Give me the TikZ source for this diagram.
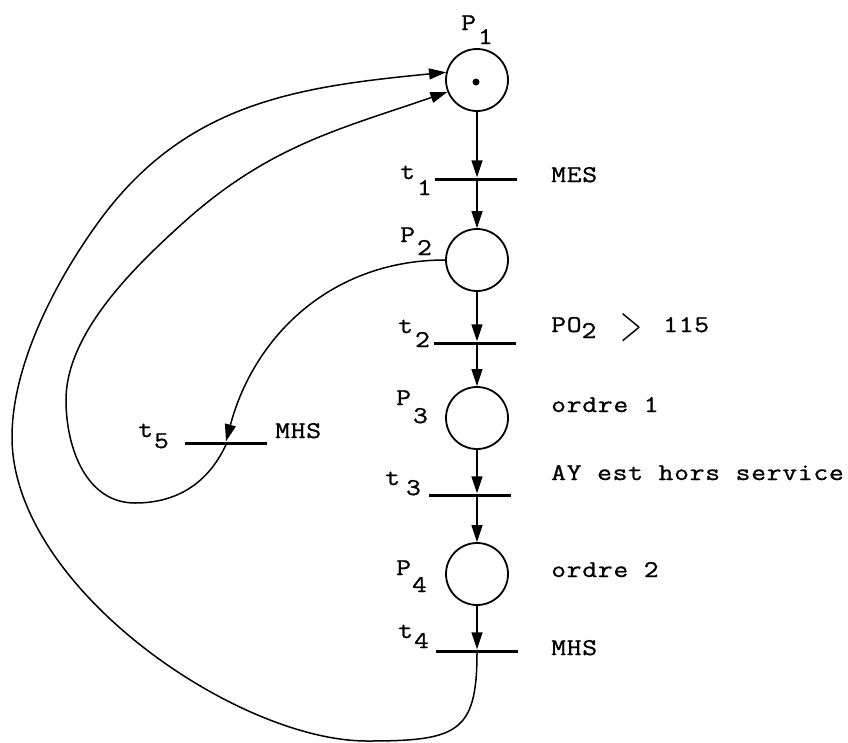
\documentclass[tikz,border=0pt]{standalone}
\usepackage{fontspec}
\usepackage{graphicx}
\setmonofont[FakeStretch=1.2,LetterSpace=3,FakeBold=1]{Latin Modern Mono}
\usetikzlibrary{arrows.meta}

% label with a lowered index, typewriter style
\newcommand\plab[4]{#1\kern#4pt\raisebox{-#3pt}{#2}}

\tikzset{
  place/.style={circle, draw, line width=1.8pt, minimum size=62pt, inner sep=0pt},
  token/.style={circle, fill, minimum size=7pt, inner sep=0pt},
  trans/.style={rectangle, fill=black, minimum width=82pt, minimum height=3pt, inner sep=0pt},
  arc/.style={line width=1.5pt, -{Triangle[length=17pt,width=11pt]}},
  lbl/.style={anchor=base west, inner sep=0pt, font=\ttfamily\fontsize{24}{24}\selectfont},
}

\begin{document}
\begin{tikzpicture}[x=1pt,y=1pt]
\useasboundingbox (0,0) rectangle (848,-742);

% places and transitions
\node[place] (P1) at (477,-80) {};
\node[token] (tok) at (476,-82) {};
\node[trans] (t1) at (476,-179) {};
\node[place] (P2) at (477,-260) {};
\node[trans] (t2) at (475,-343) {};
\node[place] (P3) at (477,-418) {};
\node[trans] (t3) at (470,-495) {};
\node[place] (P4) at (477,-574) {};
\node[trans] (t4) at (477,-651) {};
\node[trans] (t5) at (226,-443) {};

% main chain
\draw[arc] (P1.south) -- (P1.south |- t1.north);
\draw[arc] (P2.north |- t1.south) -- (P2.north);
\draw[arc] (P2.south) -- (P2.south |- t2.north);
\draw[arc] (P3.north |- t2.south) -- (P3.north);
\draw[arc] (P3.south) -- (P3.south |- t3.north);
\draw[arc] (P4.north |- t3.south) -- (P4.north);
\draw[arc] (P4.south) -- (P4.south |- t4.north);

% P2 -> t5
\draw[arc] (P2.west) to[out=180,in=75] (t5.north);

% t5 -> P1 (inner loop)
\draw[arc] (t5.south) to[out=245,in=0] (135,-503)
  to[out=180,in=-90] (66,-400)
  to[out=90,in=222,looseness=0.8] (183,-223)
  to[out=42,in=199] (P1.202);

% t4 -> P1 (outer loop)
\draw[arc] (t4.south) .. controls (477,-733) and (457,-741) .. (367,-741)
  .. controls (237,-741) and (12,-587) .. (12,-437)
  to[out=90,in=233.7,looseness=0.8] (100,-220)
  to[out=53.7,in=185.6] (P1.166);

% names
\node[lbl] (lP1) at (461,-30) {\plab{P}{1}{14}{2}};
\node[lbl] (lt1) at (400,-179) {\plab{t}{1}{16}{2}};
\node[lbl] (lP2) at (400,-242) {\plab{P}{2}{13}{2}};
\node[lbl] (lt2) at (398,-333) {\plab{t}{2}{14}{2}};
\node[lbl] (lP3) at (396,-405) {\plab{P}{3}{18}{2}};
\node[lbl] (lt3) at (385,-485) {\plab{t}{3}{10}{6}};
\node[lbl] (lP4) at (396,-575) {\plab{P}{4}{17}{1}};
\node[lbl] (lt4) at (398,-638) {\plab{t}{4}{10}{1}};
\node[lbl] (lt5) at (138,-437) {\plab{t}{5}{11}{1}};

% conditions and actions
\node[lbl] (c1) at (551,-182) {MES};
\node[lbl] (c2) at (551,-332) {\makebox[69pt][l]{PO\raisebox{-6pt}{2}}\makebox[43pt][l]{\raisebox{-8pt}{\resizebox{22pt}{27pt}{$>$}}}115};
\node[lbl] (a1) at (551,-412) {ordre 1};
\node[lbl] (c3) at (551,-480) {AY est hors service};
\node[lbl] (a2) at (551,-577) {ordre 2};
\node[lbl] (c4) at (551,-655) {MHS};
\node[lbl] (c5) at (275,-438) {MHS};
\end{tikzpicture}
\end{document}
